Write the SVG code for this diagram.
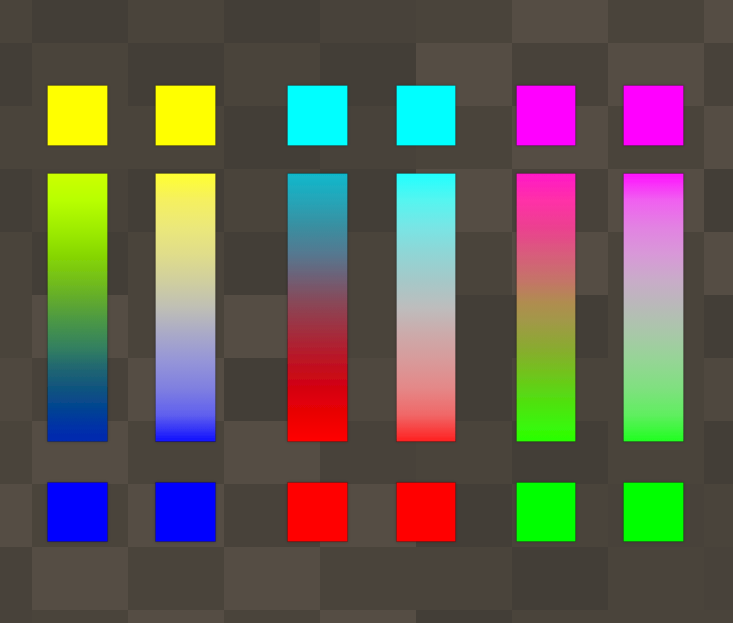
<svg xmlns="http://www.w3.org/2000/svg" width="733" height="623" viewBox="0 0 733 623">
<style>
.D{fill:#433e37}.DM{fill:#48423a}.M{fill:#4a443b}.ML{fill:#4f483f}.L{fill:#554d44}
.sq{stroke:#000;stroke-opacity:0.2;stroke-width:1}
.bar{stroke:#000;stroke-opacity:0.18;stroke-width:1}
</style>
<defs>
<filter id="sh" x="-20%" y="-20%" width="140%" height="140%"><feDropShadow dx="0" dy="0" stdDeviation="1.5" flood-color="#000" flood-opacity="0.3"/></filter>
<linearGradient id="g1" x1="0" y1="0" x2="0" y2="1">
<stop offset="0" stop-color="#ccff00"/><stop offset="0.1" stop-color="#b8ff00"/><stop offset="0.23" stop-color="#99e800"/><stop offset="0.3" stop-color="#88d800"/><stop offset="0.39" stop-color="#75c018"/><stop offset="0.48" stop-color="#5fa830"/><stop offset="0.56" stop-color="#489548"/><stop offset="0.65" stop-color="#338060"/><stop offset="0.72" stop-color="#226870"/><stop offset="0.8" stop-color="#10547e"/><stop offset="0.87" stop-color="#044590"/><stop offset="0.95" stop-color="#0030a8"/><stop offset="1" stop-color="#0028b0"/>
</linearGradient>
<linearGradient id="g2" x1="0" y1="0" x2="0" y2="1">
<stop offset="0" stop-color="#ffff30"/><stop offset="0.1" stop-color="#f5f060"/><stop offset="0.2" stop-color="#ebe87a"/><stop offset="0.3" stop-color="#e0dd8a"/><stop offset="0.4" stop-color="#d0cf9e"/><stop offset="0.5" stop-color="#bfbfb5"/><stop offset="0.6" stop-color="#a9a9c8"/><stop offset="0.7" stop-color="#9595d8"/><stop offset="0.8" stop-color="#8080e0"/><stop offset="0.9" stop-color="#6060ee"/><stop offset="1" stop-color="#1010ff"/>
</linearGradient>
<linearGradient id="g3" x1="0" y1="0" x2="0" y2="1">
<stop offset="0" stop-color="#10b8cc"/><stop offset="0.1" stop-color="#25a5b8"/><stop offset="0.2" stop-color="#3a8ea0"/><stop offset="0.3" stop-color="#557890"/><stop offset="0.38" stop-color="#6c6278"/><stop offset="0.48" stop-color="#884858"/><stop offset="0.58" stop-color="#a03040"/><stop offset="0.68" stop-color="#b81828"/><stop offset="0.75" stop-color="#c80818"/><stop offset="0.85" stop-color="#e00008"/><stop offset="0.95" stop-color="#f50000"/><stop offset="1" stop-color="#ff0000"/>
</linearGradient>
<linearGradient id="g4" x1="0" y1="0" x2="0" y2="1">
<stop offset="0" stop-color="#20ffff"/><stop offset="0.1" stop-color="#55f5f0"/><stop offset="0.2" stop-color="#78e5e5"/><stop offset="0.3" stop-color="#90d5d5"/><stop offset="0.4" stop-color="#a5c8c8"/><stop offset="0.5" stop-color="#bdbdbd"/><stop offset="0.6" stop-color="#ccaaaa"/><stop offset="0.7" stop-color="#d89a9a"/><stop offset="0.8" stop-color="#e48888"/><stop offset="0.9" stop-color="#f06868"/><stop offset="1" stop-color="#ff2020"/>
</linearGradient>
<linearGradient id="g5" x1="0" y1="0" x2="0" y2="1">
<stop offset="0" stop-color="#ff18c8"/><stop offset="0.1" stop-color="#ff30a8"/><stop offset="0.2" stop-color="#ec4090"/><stop offset="0.3" stop-color="#d85c7c"/><stop offset="0.4" stop-color="#c47468"/><stop offset="0.48" stop-color="#b08c50"/><stop offset="0.55" stop-color="#a29848"/><stop offset="0.65" stop-color="#8aaa30"/><stop offset="0.75" stop-color="#70c41c"/><stop offset="0.85" stop-color="#50e010"/><stop offset="0.95" stop-color="#38f808"/><stop offset="1" stop-color="#28ff00"/>
</linearGradient>
<linearGradient id="g6" x1="0" y1="0" x2="0" y2="1">
<stop offset="0" stop-color="#ff10ff"/><stop offset="0.1" stop-color="#f060f0"/><stop offset="0.2" stop-color="#e282e2"/><stop offset="0.3" stop-color="#d898d8"/><stop offset="0.4" stop-color="#c8acc8"/><stop offset="0.5" stop-color="#b8bab8"/><stop offset="0.6" stop-color="#a8c8a8"/><stop offset="0.7" stop-color="#95d595"/><stop offset="0.8" stop-color="#80e080"/><stop offset="0.9" stop-color="#60ee60"/><stop offset="1" stop-color="#20ff20"/>
</linearGradient>
</defs>
<g id="background">
<rect class="M" x="0" y="0" width="32" height="43"/><rect class="D" x="32" y="0" width="96" height="43"/><rect class="M" x="128" y="0" width="96" height="43"/><rect class="D" x="224" y="0" width="96" height="43"/><rect class="DM" x="320" y="0" width="96" height="43"/><rect class="M" x="416" y="0" width="96" height="43"/><rect class="L" x="512" y="0" width="96" height="43"/><rect class="M" x="608" y="0" width="96" height="43"/><rect class="L" x="704" y="0" width="29" height="43"/>
<rect class="D" x="0" y="43" width="32" height="63"/><rect class="M" x="32" y="43" width="96" height="63"/><rect class="D" x="128" y="43" width="96" height="63"/><rect class="M" x="224" y="43" width="96" height="63"/><rect class="D" x="320" y="43" width="96" height="63"/><rect class="L" x="416" y="43" width="96" height="63"/><rect class="DM" x="512" y="43" width="96" height="63"/><rect class="L" x="608" y="43" width="96" height="63"/><rect class="DM" x="704" y="43" width="29" height="63"/>
<rect class="M" x="0" y="106" width="32" height="63"/><rect class="M" x="32" y="106" width="96" height="63"/><rect class="M" x="128" y="106" width="96" height="63"/><rect class="D" x="224" y="106" width="96" height="63"/><rect class="DM" x="320" y="106" width="96" height="63"/><rect class="M" x="416" y="106" width="96" height="63"/><rect class="L" x="512" y="106" width="96" height="63"/><rect class="M" x="608" y="106" width="96" height="63"/><rect class="L" x="704" y="106" width="29" height="63"/>
<rect class="D" x="0" y="169" width="32" height="63"/><rect class="DM" x="32" y="169" width="96" height="63"/><rect class="D" x="128" y="169" width="96" height="63"/><rect class="M" x="224" y="169" width="96" height="63"/><rect class="D" x="320" y="169" width="96" height="63"/><rect class="L" x="416" y="169" width="96" height="63"/><rect class="DM" x="512" y="169" width="96" height="63"/><rect class="L" x="608" y="169" width="96" height="63"/><rect class="D" x="704" y="169" width="29" height="63"/>
<rect class="M" x="0" y="232" width="32" height="63"/><rect class="D" x="32" y="232" width="96" height="63"/><rect class="M" x="128" y="232" width="96" height="63"/><rect class="D" x="224" y="232" width="96" height="63"/><rect class="M" x="320" y="232" width="96" height="63"/><rect class="M" x="416" y="232" width="96" height="63"/><rect class="L" x="512" y="232" width="96" height="63"/><rect class="M" x="608" y="232" width="96" height="63"/><rect class="L" x="704" y="232" width="29" height="63"/>
<rect class="M" x="0" y="295" width="32" height="63"/><rect class="L" x="32" y="295" width="96" height="63"/><rect class="M" x="128" y="295" width="96" height="63"/><rect class="L" x="224" y="295" width="96" height="63"/><rect class="M" x="320" y="295" width="96" height="63"/><rect class="D" x="416" y="295" width="96" height="63"/><rect class="D" x="512" y="295" width="96" height="63"/><rect class="M" x="608" y="295" width="96" height="63"/><rect class="D" x="704" y="295" width="29" height="63"/>
<rect class="ML" x="0" y="358" width="32" height="63"/><rect class="DM" x="32" y="358" width="96" height="63"/><rect class="L" x="128" y="358" width="96" height="63"/><rect class="D" x="224" y="358" width="96" height="63"/><rect class="ML" x="320" y="358" width="96" height="63"/><rect class="D" x="416" y="358" width="96" height="63"/><rect class="M" x="512" y="358" width="96" height="63"/><rect class="M" x="608" y="358" width="96" height="63"/><rect class="ML" x="704" y="358" width="29" height="63"/>
<rect class="M" x="0" y="421" width="32" height="63"/><rect class="L" x="32" y="421" width="96" height="63"/><rect class="M" x="128" y="421" width="96" height="63"/><rect class="L" x="224" y="421" width="96" height="63"/><rect class="DM" x="320" y="421" width="96" height="63"/><rect class="M" x="416" y="421" width="96" height="63"/><rect class="D" x="512" y="421" width="96" height="63"/><rect class="M" x="608" y="421" width="96" height="63"/><rect class="D" x="704" y="421" width="29" height="63"/>
<rect class="L" x="0" y="484" width="32" height="63"/><rect class="M" x="32" y="484" width="96" height="63"/><rect class="L" x="128" y="484" width="96" height="63"/><rect class="DM" x="224" y="484" width="96" height="63"/><rect class="L" x="320" y="484" width="96" height="63"/><rect class="D" x="416" y="484" width="96" height="63"/><rect class="M" x="512" y="484" width="96" height="63"/><rect class="DM" x="608" y="484" width="96" height="63"/><rect class="M" x="704" y="484" width="29" height="63"/>
<rect class="DM" x="0" y="547" width="32" height="63"/><rect class="L" x="32" y="547" width="96" height="63"/><rect class="M" x="128" y="547" width="96" height="63"/><rect class="L" x="224" y="547" width="96" height="63"/><rect class="M" x="320" y="547" width="96" height="63"/><rect class="M" x="416" y="547" width="96" height="63"/><rect class="D" x="512" y="547" width="96" height="63"/><rect class="M" x="608" y="547" width="96" height="63"/><rect class="DM" x="704" y="547" width="29" height="63"/>
<rect class="DM" x="0" y="610" width="32" height="13"/><rect class="M" x="32" y="610" width="96" height="13"/><rect class="L" x="128" y="610" width="96" height="13"/><rect class="M" x="224" y="610" width="96" height="13"/><rect class="L" x="320" y="610" width="96" height="13"/><rect class="D" x="416" y="610" width="96" height="13"/><rect class="M" x="512" y="610" width="96" height="13"/><rect class="M" x="608" y="610" width="96" height="13"/><rect class="M" x="704" y="610" width="29" height="13"/>
</g>
<g id="col1" filter="url(#sh)">
<rect class="sq" x="47.5" y="85.5" width="60" height="60" fill="#ffff00"/>
<rect class="bar" x="47.5" y="173.5" width="60" height="268" fill="url(#g1)"/>
<rect class="sq" x="47.5" y="482.5" width="60" height="59" fill="#0000ff"/>
</g>
<g id="col2" filter="url(#sh)">
<rect class="sq" x="155.5" y="85.5" width="60" height="60" fill="#ffff00"/>
<rect class="bar" x="155.5" y="173.5" width="60" height="268" fill="url(#g2)"/>
<rect class="sq" x="155.5" y="482.5" width="60" height="59" fill="#0000ff"/>
</g>
<g id="col3" filter="url(#sh)">
<rect class="sq" x="287.5" y="85.5" width="60" height="60" fill="#00ffff"/>
<rect class="bar" x="287.5" y="173.5" width="60" height="268" fill="url(#g3)"/>
<rect class="sq" x="287.5" y="482.5" width="60" height="59" fill="#ff0000"/>
</g>
<g id="col4" filter="url(#sh)">
<rect class="sq" x="396.5" y="85.5" width="59" height="60" fill="#00ffff"/>
<rect class="bar" x="396.5" y="173.5" width="59" height="268" fill="url(#g4)"/>
<rect class="sq" x="396.5" y="482.5" width="59" height="59" fill="#ff0000"/>
</g>
<g id="col5" filter="url(#sh)">
<rect class="sq" x="516.5" y="85.5" width="59" height="60" fill="#ff00ff"/>
<rect class="bar" x="516.5" y="173.5" width="59" height="268" fill="url(#g5)"/>
<rect class="sq" x="516.5" y="482.5" width="59" height="59" fill="#00ff00"/>
</g>
<g id="col6" filter="url(#sh)">
<rect class="sq" x="623.5" y="85.5" width="60" height="60" fill="#ff00ff"/>
<rect class="bar" x="623.5" y="173.5" width="60" height="268" fill="url(#g6)"/>
<rect class="sq" x="623.5" y="482.5" width="60" height="59" fill="#00ff00"/>
</g>
</svg>
